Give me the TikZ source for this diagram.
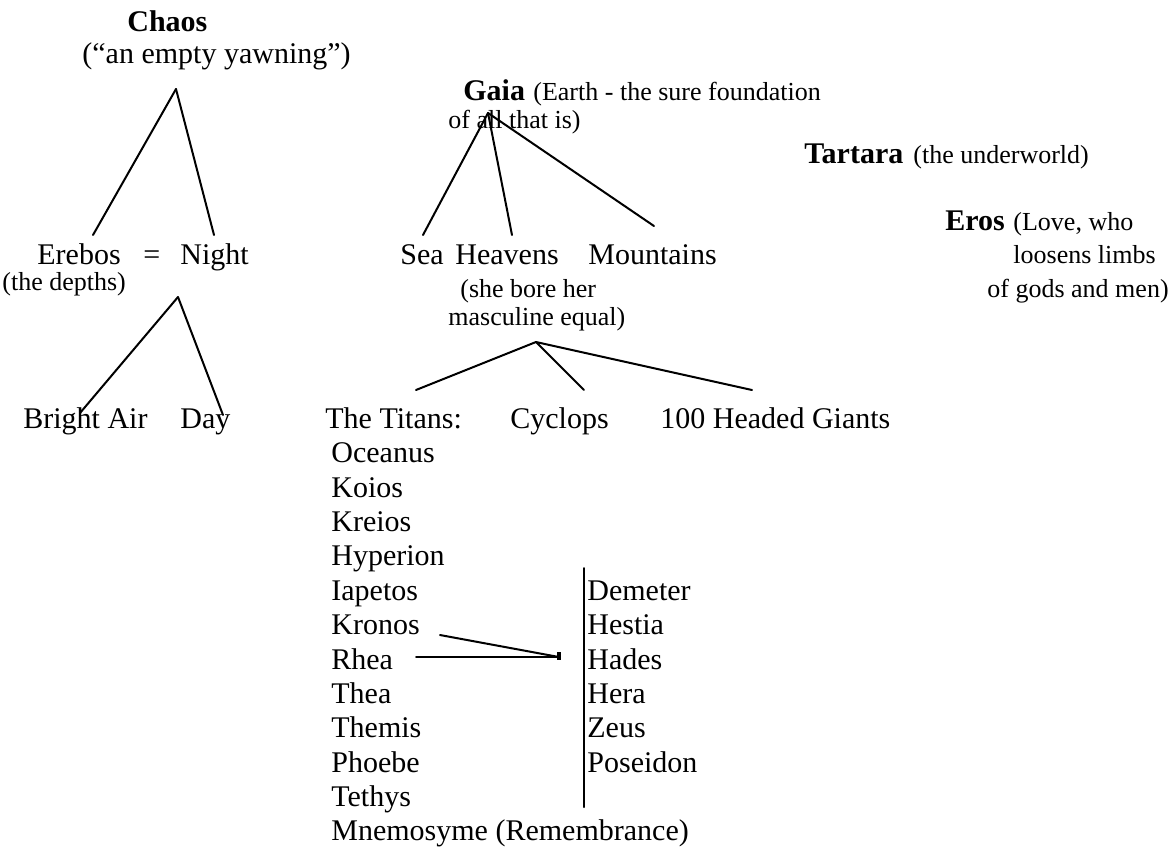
\documentclass[tikz,border=0pt]{standalone}
\usepackage{fontspec}
\setmainfont{Liberation Serif}
\usepackage{tikz}
\usetikzlibrary{positioning}
\tikzstyle{word} = [inner sep=0pt, anchor=base west, font=\fontsize{15}{18}\selectfont]
\tikzstyle{god} = [word, font=\fontsize{15}{18}\selectfont\bfseries]
\tikzstyle{note} = [word, font=\fontsize{13}{15}\selectfont]
\tikzstyle{link} = [line width=1pt, line cap=round]

\begin{document}
\begin{tikzpicture}[x=0.5pt, y=-0.5pt]
\useasboundingbox (0,0) rectangle (1172,848);
% Chaos and its offspring
\node (chaos) [god] at (127,31) {Chaos};
\node (yawning) [word] at (82,63) {(“an empty yawning”)};
\node (erebos) [word] at (37,264) {Erebos};
\node (eq) [word] at (143,264) {=};
\node (night) [word] at (180,264) {Night};
\node (depths) [note] at (2,290) {(the depths)};
\node (air) [word] at (23,428) {Bright Air};
\node (day) [word] at (180,428) {Day};
% Gaia and her offspring
\node (gaia) [god] at (463,100) {Gaia};
\node (earth) [note] at (533,100) {(Earth - the sure foundation};
\node (earth2) [note] at (448,128) {of all that is)};
\node (sea) [word] at (400,264) {Sea};
\node (heavens) [word] at (455,264) {Heavens};
\node (mountains) [word] at (588,264) {Mountains};
\node (bore) [note] at (460,297) {(she bore her};
\node (equal) [note] at (448,325) {masculine equal)};
\node (titans) [word] at (325,428) {The Titans:};
\node (cyclops) [word] at (510,428) {Cyclops};
\node (giants) [word] at (660,428) {100 Headed Giants};
% Tartara and Eros
\node (tartara) [god] at (804,163) {Tartara};
\node (underworld) [note] at (913,163) {(the underworld)};
\node (eros) [god] at (945,230) {Eros};
\node (love) [note] at (1013,230) {(Love, who};
\node (limbs) [note] at (1013,263) {loosens limbs};
\node (men) [note] at (987,297) {of gods and men)};
% the Titans
\node (oceanus) [word] at (331,462) {Oceanus};
\node (koios) [word] at (331,497) {Koios};
\node (kreios) [word] at (331,531) {Kreios};
\node (hyperion) [word] at (331,565) {Hyperion};
\node (iapetos) [word] at (331,600) {Iapetos};
\node (kronos) [word] at (331,634) {Kronos};
\node (rhea) [word] at (331,669) {Rhea};
\node (thea) [word] at (331,703) {Thea};
\node (themis) [word] at (331,737) {Themis};
\node (phoebe) [word] at (331,772) {Phoebe};
\node (tethys) [word] at (331,806) {Tethys};
\node (mnemosyme) [word] at (331,840) {Mnemosyme (Remembrance)};
% children of Kronos and Rhea
\node (demeter) [word] at (587,600) {Demeter};
\node (hestia) [word] at (587,634) {Hestia};
\node (hades) [word] at (587,669) {Hades};
\node (hera) [word] at (587,703) {Hera};
\node (zeus) [word] at (587,737) {Zeus};
\node (poseidon) [word] at (587,772) {Poseidon};
% line ends
\coordinate (chaosfork) at (176,89);
\coordinate (erebosend) at (93,235);
\coordinate (nightend) at (214,235);
\coordinate (nightfork) at (178,297);
\coordinate (airend) at (80,413);
\coordinate (dayend) at (223,415);
\coordinate (gaiafork) at (488,113);
\coordinate (seaend) at (423,235);
\coordinate (heavensend) at (512,235);
\coordinate (mountainsend) at (654,226);
\coordinate (heavensfork) at (536,342);
\coordinate (titansend) at (416,390);
\coordinate (cyclopsend) at (584,390);
\coordinate (giantsend) at (752,390);
\coordinate (kronosend) at (440,635);
\coordinate (rheaend) at (416,657);
\coordinate (union) at (559,657);
\coordinate (bartop) at (584,568);
\coordinate (barbottom) at (584,807);
\draw [link] (chaosfork) -- (erebosend);
\draw [link] (chaosfork) -- (nightend);
\draw [link] (nightfork) -- (airend);
\draw [link] (nightfork) -- (dayend);
\draw [link] (gaiafork) -- (seaend);
\draw [link] (gaiafork) -- (heavensend);
\draw [link] (gaiafork) -- (mountainsend);
\draw [link] (heavensfork) -- (titansend);
\draw [link] (heavensfork) -- (cyclopsend);
\draw [link] (heavensfork) -- (giantsend);
\draw [link] (kronosend) -- (union);
\draw [link] (rheaend) -- (union);
\draw [link, line width=1.6pt, line cap=butt] ([yshift=2.5pt]union) -- ([yshift=-1.5pt]union);
\draw [link] (bartop) -- (barbottom);
\end{tikzpicture}
\end{document}
